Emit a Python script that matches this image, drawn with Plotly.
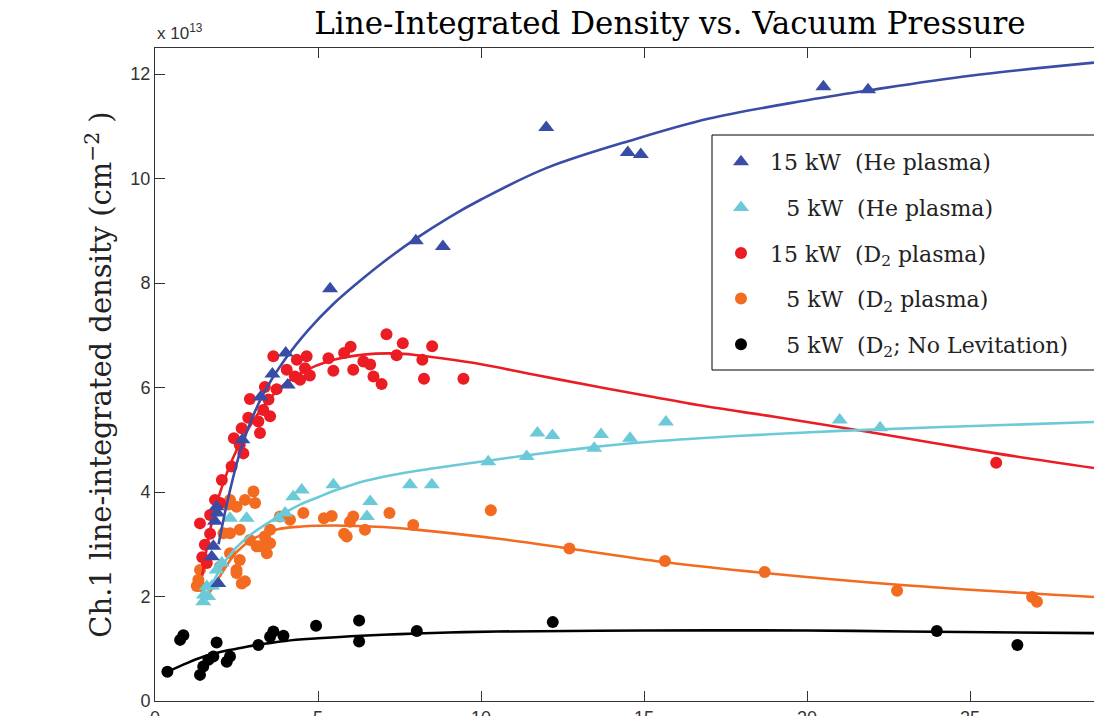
import plotly.graph_objects as go

# ---------------- data ----------------
he15_x = [1.74, 1.79, 1.84, 1.89, 1.91, 1.94, 2.68, 3.24, 3.60, 4.01, 4.07, 5.37, 8.00, 8.83, 12.0, 14.5, 14.9, 20.5, 21.87]
he15_y = [2.76, 2.96, 3.44, 3.72, 3.60, 2.25, 5.00, 5.82, 6.26, 6.66, 6.05, 7.89, 8.81, 8.70, 10.98, 10.50, 10.46, 11.76, 11.70]

he5_x = [1.48, 1.50, 1.59, 1.63, 1.75, 1.89, 2.05, 2.30, 2.81, 3.78, 3.99, 4.24, 4.50, 5.47, 6.50, 6.60, 7.82, 8.49, 10.22, 11.40, 11.73, 12.19, 13.47, 13.68, 14.57, 15.67, 21.0, 22.24]
he5_y = [1.90, 2.03, 2.19, 2.00, 2.20, 2.51, 2.64, 3.50, 3.50, 3.50, 3.60, 3.91, 4.04, 4.14, 3.53, 3.82, 4.14, 4.14, 4.58, 4.68, 5.13, 5.08, 4.84, 5.10, 5.03, 5.34, 5.38, 5.23]

d15_x = [1.38, 1.45, 1.53, 1.59, 1.69, 1.69, 1.84, 2.00, 2.05, 2.35, 2.42, 2.60, 2.66, 2.71, 2.86, 2.91, 3.17, 3.22, 3.32, 3.37, 3.48, 3.53, 3.63, 3.73, 4.04, 4.29, 4.35, 4.45, 4.60, 4.65, 4.75, 5.32, 5.47, 5.80, 6.00, 6.08, 6.39, 6.60, 6.70, 6.95, 7.10, 7.41, 7.60, 8.20, 8.25, 8.50, 9.46, 25.8]
d15_y = [3.40, 2.75, 2.99, 2.64, 3.20, 3.56, 3.85, 3.79, 4.23, 4.49, 5.03, 4.90, 5.22, 4.74, 5.42, 5.78, 5.35, 5.13, 5.57, 6.01, 5.77, 5.45, 6.60, 5.97, 6.34, 6.21, 6.53, 6.15, 6.37, 6.60, 6.23, 6.56, 6.32, 6.66, 6.78, 6.34, 6.50, 6.44, 6.21, 6.07, 7.02, 6.62, 6.85, 6.53, 6.17, 6.79, 6.17, 4.56]

d5_x = [1.28, 1.33, 1.38, 1.38, 1.99, 2.10, 2.25, 2.30, 2.30, 2.30, 2.50, 2.50, 2.50, 2.60, 2.60, 2.66, 2.76, 2.76, 2.91, 3.02, 3.07, 3.12, 3.22, 3.37, 3.43, 3.53, 3.53, 3.83, 4.14, 4.55, 5.18, 5.42, 5.80, 5.88, 5.98, 6.08, 6.44, 7.19, 7.92, 10.3, 12.71, 15.64, 18.7, 22.76, 26.9, 27.05]
d5_y = [2.20, 2.32, 2.51, 2.20, 2.57, 3.21, 3.76, 3.85, 2.83, 3.21, 2.51, 3.72, 2.45, 2.70, 3.28, 2.25, 2.29, 3.85, 3.08, 4.01, 3.79, 2.96, 2.96, 3.15, 2.83, 3.02, 3.28, 3.53, 3.47, 3.60, 3.50, 3.54, 3.20, 3.15, 3.43, 3.53, 3.28, 3.60, 3.37, 3.65, 2.92, 2.68, 2.47, 2.11, 1.99, 1.90]

d5n_x = [0.38, 0.77, 0.87, 1.38, 1.48, 1.64, 1.79, 1.89, 2.20, 2.30, 3.17, 3.53, 3.63, 3.94, 4.94, 6.26, 6.26, 8.03, 12.2, 23.98, 26.45]
d5n_y = [0.56, 1.17, 1.26, 0.50, 0.66, 0.79, 0.85, 1.12, 0.75, 0.85, 1.07, 1.23, 1.33, 1.25, 1.44, 1.54, 1.14, 1.34, 1.51, 1.34, 1.07]

# fitted curves
fit_he15_x = [1.95, 2.25, 2.7, 3.3, 4.0, 4.7, 5.47, 6.3, 7.0, 8.0, 9.0, 10.0, 12.0, 14.7, 17.0, 20.0, 22.0, 25.0, 28.8]
fit_he15_y = [3.0, 3.9, 4.95, 5.85, 6.55, 7.1, 7.6, 8.05, 8.4, 8.85, 9.25, 9.6, 10.2, 10.75, 11.15, 11.5, 11.7, 11.97, 12.22]

fit_he5_x = [1.45, 1.8, 2.2, 2.8, 3.7, 4.45, 5.0, 5.47, 6.0, 6.5, 7.5, 8.5, 10.2, 11.6, 13.45, 14.7, 16.7, 19.0, 21.0, 24.4, 28.8]
fit_he5_y = [1.9, 2.3, 2.72, 3.12, 3.5, 3.76, 3.9, 4.02, 4.13, 4.22, 4.35, 4.45, 4.6, 4.72, 4.86, 4.94, 5.03, 5.11, 5.17, 5.25, 5.34]

fit_d15_x = [1.45, 1.7, 2.0, 2.5, 3.0, 3.5, 4.0, 4.6, 5.3, 6.4, 7.5, 8.3, 9.8, 11.6, 13.45, 15.2, 16.7, 19.0, 21.9, 25.8, 28.8]
fit_d15_y = [2.4, 3.3, 4.0, 4.8, 5.35, 5.78, 6.08, 6.32, 6.5, 6.63, 6.65, 6.6, 6.47, 6.25, 6.03, 5.83, 5.66, 5.44, 5.15, 4.74, 4.46]

fit_d5_x = [1.6, 2.0, 2.5, 3.0, 3.7, 4.5, 5.5, 7.0, 8.0, 10.6, 12.7, 15.6, 18.7, 22.9, 28.8]
fit_d5_y = [2.0, 2.4, 2.85, 3.1, 3.28, 3.34, 3.36, 3.33, 3.28, 3.1, 2.92, 2.66, 2.45, 2.22, 1.99]

fit_d5n_x = [0.35, 1.0, 1.5, 2.0, 2.5, 3.0, 4.0, 5.0, 6.0, 7.5, 9.0, 10.5, 15.0, 20.0, 23.0, 28.8]
fit_d5n_y = [0.55, 0.73, 0.85, 0.94, 1.0, 1.06, 1.15, 1.2, 1.24, 1.28, 1.31, 1.33, 1.35, 1.35, 1.33, 1.3]

x_ticks = [0, 5, 10, 15, 20, 25]
y_ticks = [0, 2, 4, 6, 8, 10, 12]

SP = "\u00a0"
IND = "\u2007\u200a"
labels = [
    "15" + SP + "kW" + SP * 2 + "(He" + SP + "plasma)",
    IND + "5" + SP + "kW" + SP * 2 + "(He" + SP + "plasma)",
    "15" + SP + "kW" + SP * 2 + "(D<sub>2</sub>" + SP + "plasma)",
    IND + "5" + SP + "kW" + SP * 2 + "(D<sub>2</sub>" + SP + "plasma)",
    IND + "5" + SP + "kW" + SP * 2 + "(D<sub>2</sub>;" + SP + "No" + SP + "Levitation)",
]

C_BLUE = "#3A4DA6"
C_CYAN = "#6CCAD8"
C_RED = "#EC1C24"
C_ORANGE = "#F26B21"
C_BLACK = "#000000"

SERIF = "DejaVu Serif"
SANS = "Liberation Sans"

fig = go.Figure()

# draw order: black, orange, red, cyan, blue (blue on top)
series = [
    (d5n_x, d5n_y, fit_d5n_x, fit_d5n_y, C_BLACK, "circle", 12, labels[4], 5, "g5"),
    (d5_x, d5_y, fit_d5_x, fit_d5_y, C_ORANGE, "circle", 12, labels[3], 4, "g4"),
    (d15_x, d15_y, fit_d15_x, fit_d15_y, C_RED, "circle", 12, labels[2], 3, "g3"),
    (he5_x, he5_y, fit_he5_x, fit_he5_y, C_CYAN, "triangle-up", 14, labels[1], 2, "g2"),
    (he15_x, he15_y, fit_he15_x, fit_he15_y, C_BLUE, "triangle-up", 14, labels[0], 1, "g1"),
]

for xs, ys, fx, fy, col, sym, sz, name, rank, grp in series:
    fig.add_trace(go.Scatter(
        x=fx, y=fy, mode="lines", line=dict(color=col, width=2.6, shape="spline", smoothing=1.0),
        showlegend=False, legendgroup=grp, hoverinfo="skip"))
    fig.add_trace(go.Scatter(
        x=xs, y=ys, mode="markers", name=name, legendgroup=grp, legendrank=rank,
        marker=dict(symbol=sym, size=sz, color=col, line=dict(width=0))))

PW = 939.0
PH = 653.0

def px_x(p):
    return (p - 155) / PW

def px_y(p):
    return (701 - p) / PH

# legend frame (its right edge runs past the picture, as in the reference)
fig.add_shape(type="rect", xref="paper", yref="paper",
              x0=px_x(712), x1=px_x(1110), y0=px_y(370), y1=px_y(135),
              line=dict(color="black", width=1), fillcolor="white", layer="above")

fig.update_layout(
    width=1094, height=716,
    margin=dict(l=155, r=0, t=48, b=15, autoexpand=False),
    paper_bgcolor="white", plot_bgcolor="white",
    showlegend=True,
    title=dict(text="Line-Integrated Density vs. Vacuum Pressure",
               font=dict(family=SERIF, size=31, color="black"),
               x=px_x(670), xref="paper", xanchor="center",
               y=1 - 23 / 716, yref="container", yanchor="middle", automargin=False),
    legend=dict(x=px_x(712), y=px_y(141), xanchor="left", yanchor="top",
                bgcolor="rgba(0,0,0,0)", borderwidth=0,
                font=dict(family=SERIF, size=22, color="#222"),
                tracegroupgap=14, itemwidth=48),
    xaxis=dict(range=[0, 28.8], tickvals=x_ticks, ticktext=[str(v) for v in x_ticks],
               ticks="inside", ticklen=10, tickwidth=1, tickcolor="#333",
               showline=True, linecolor="#333", linewidth=1, mirror="ticks",
               showgrid=False, zeroline=False, automargin=False,
               tickfont=dict(family=SANS, size=18, color="#333")),
    yaxis=dict(range=[0, 12.5], tickvals=y_ticks, ticktext=[str(v) for v in y_ticks],
               ticks="inside", ticklen=10, tickwidth=1, tickcolor="#333",
               showline=True, linecolor="#333", linewidth=1, mirror=False,
               showgrid=False, zeroline=False, automargin=False,
               tickfont=dict(family=SANS, size=18, color="#333"),
               title=dict(text="Ch.1 line-integrated density (cm<sup>\u22122</sup>" + SP + ")",
                          font=dict(family=SERIF, size=29, color="#222"), standoff=10)),
)

fig.add_annotation(text="x 10<sup>13</sup>", xref="paper", yref="paper", x=0, y=1,
                   xanchor="left", yanchor="bottom", showarrow=False, yshift=3,
                   font=dict(family=SANS, size=17, color="#333"))

fig.write_html("out.html")
